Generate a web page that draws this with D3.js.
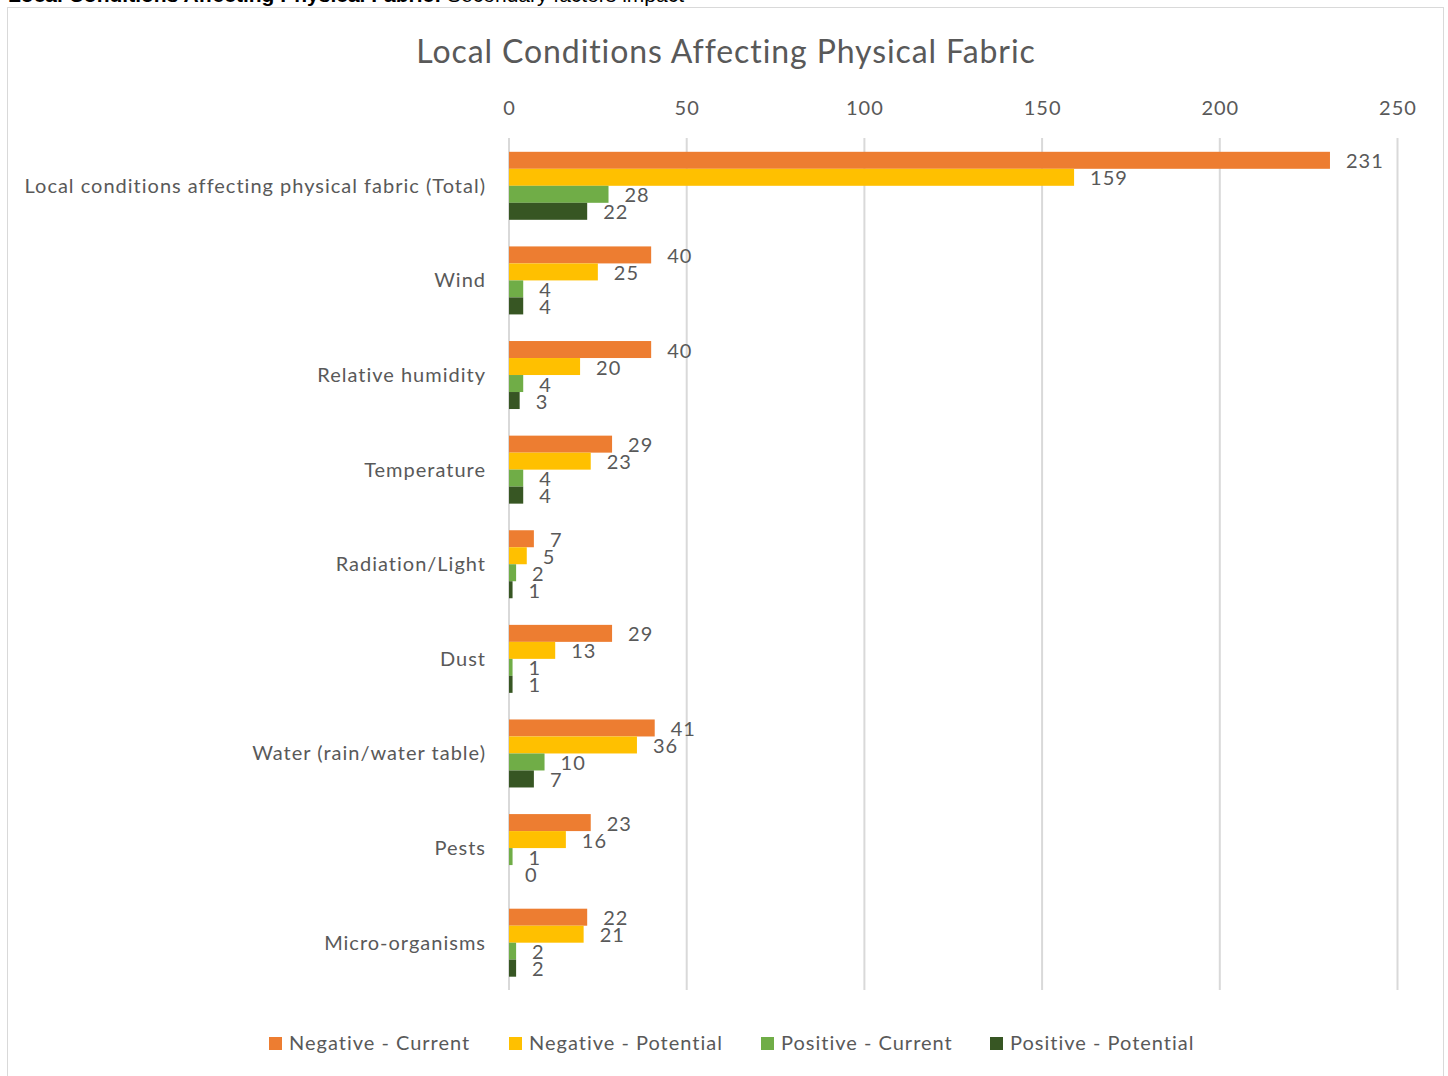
<!DOCTYPE html>
<html><head><meta charset="utf-8">
<script src="https://cdn.jsdelivr.net/npm/d3@7"></script>
<style>
html,body{margin:0;padding:0;background:#fff;overflow:hidden;}
svg{display:block;}
</style></head>
<body>
<svg id="c" width="1448" height="1076"></svg>
<script>
const categories = ["Local conditions affecting physical fabric (Total)","Wind","Relative humidity","Temperature","Radiation/Light","Dust","Water (rain/water table)","Pests","Micro-organisms"];
const seriesNames = ["Negative - Current","Negative - Potential","Positive - Current","Positive - Potential"];
const negativeCurrent   = [231, 40, 40, 29, 7, 29, 41, 23, 22];
const negativePotential = [159, 25, 20, 23, 5, 13, 36, 16, 21];
const positiveCurrent   = [28, 4, 4, 4, 2, 1, 10, 1, 2];
const positivePotential = [22, 4, 3, 4, 1, 1, 7, 0, 2];
const xTicks = [0, 50, 100, 150, 200, 250];
const colors = ["#ED7D31","#FFC000","#70AD47","#375623"];
const seriesValues = [negativeCurrent, negativePotential, positiveCurrent, positivePotential];

const FONT = "Lato, 'Open Sans', sans-serif";
const TXT = "#595959";
const LS = "1px";
const svg = d3.select("#c");

// outer border
svg.append("rect").attr("x",7.5).attr("y",7.5).attr("width",1436).attr("height",1100)
  .attr("fill","none").attr("stroke","#d9d9d9").attr("stroke-width",1);

// cut-off document caption above
const cap = svg.append("text").attr("x",8).attr("y",2).attr("font-family","Liberation Sans, Arial, sans-serif")
  .attr("font-size",21).attr("fill","#000");
cap.append("tspan").attr("font-weight","bold").text("Local Conditions Affecting Physical Fabric:");
cap.append("tspan").text(" Secondary factors impact");

// title
svg.append("text").attr("x",726).attr("y",63).attr("text-anchor","middle")
  .attr("font-family",FONT).attr("font-size",32).attr("fill",TXT).attr("letter-spacing","0.9px")
  .text("Local Conditions Affecting Physical Fabric");

const x = d3.scaleLinear().domain([0,250]).range([509,1397.5]);
const y = d3.scaleBand().domain(categories).range([138.5,990]).paddingInner(0).paddingOuter(0);
const inner = d3.scaleBand().domain(d3.range(4)).range([0,68]);

// gridlines
svg.append("g").selectAll("line").data(xTicks).join("line")
  .attr("x1",d=>x(d)).attr("x2",d=>x(d)).attr("y1",138).attr("y2",990)
  .attr("stroke","#d9d9d9").attr("stroke-width",2);

// top axis
const ax = svg.append("g").attr("transform","translate(0,115)")
  .call(d3.axisTop(x).tickValues(xTicks).tickSize(0).tickPadding(0));
ax.select(".domain").remove();
ax.selectAll("text").attr("font-family",FONT).attr("font-size",20).attr("fill",TXT).attr("letter-spacing",LS);

// category labels
svg.append("g").selectAll("text").data(categories).join("text")
  .attr("x",486).attr("y",d=>y(d)+y.bandwidth()/2).attr("dy","0.35em")
  .attr("text-anchor","end").attr("font-family",FONT).attr("font-size",20).attr("fill",TXT)
  .attr("letter-spacing",LS)
  .text(d=>d);

// bars
const rows = [];
categories.forEach((c,ci)=>seriesValues.forEach((vals,si)=>rows.push({c,si,v:vals[ci]})));
const off = (y.bandwidth()-68)/2;
const g = svg.append("g");
g.selectAll("rect").data(rows).join("rect")
  .attr("x",x(0)).attr("y",d=>y(d.c)+off+inner(d.si))
  .attr("width",d=>x(d.v)-x(0)).attr("height",inner.bandwidth())
  .attr("fill",d=>colors[d.si]);
g.selectAll("text").data(rows).join("text")
  .attr("x",d=>x(d.v)+16).attr("y",d=>y(d.c)+off+inner(d.si)+inner.bandwidth()/2+1).attr("dy","0.35em")
  .attr("font-family",FONT).attr("font-size",20).attr("fill",TXT).attr("letter-spacing",LS)
  .text(d=>d.v);

// legend
const legX = [269, 509, 761, 990];
const lg = svg.append("g").selectAll("g").data(seriesNames).join("g")
  .attr("transform",(d,i)=>`translate(${legX[i]},1043)`);
lg.append("rect").attr("x",0).attr("y",-6).attr("width",13).attr("height",13).attr("fill",(d,i)=>colors[i]);
lg.append("text").attr("x",20).attr("y",0).attr("dy","0.35em").attr("font-family",FONT)
  .attr("font-size",20).attr("fill",TXT).attr("letter-spacing",LS).text(d=>d);
</script>
</body></html>
